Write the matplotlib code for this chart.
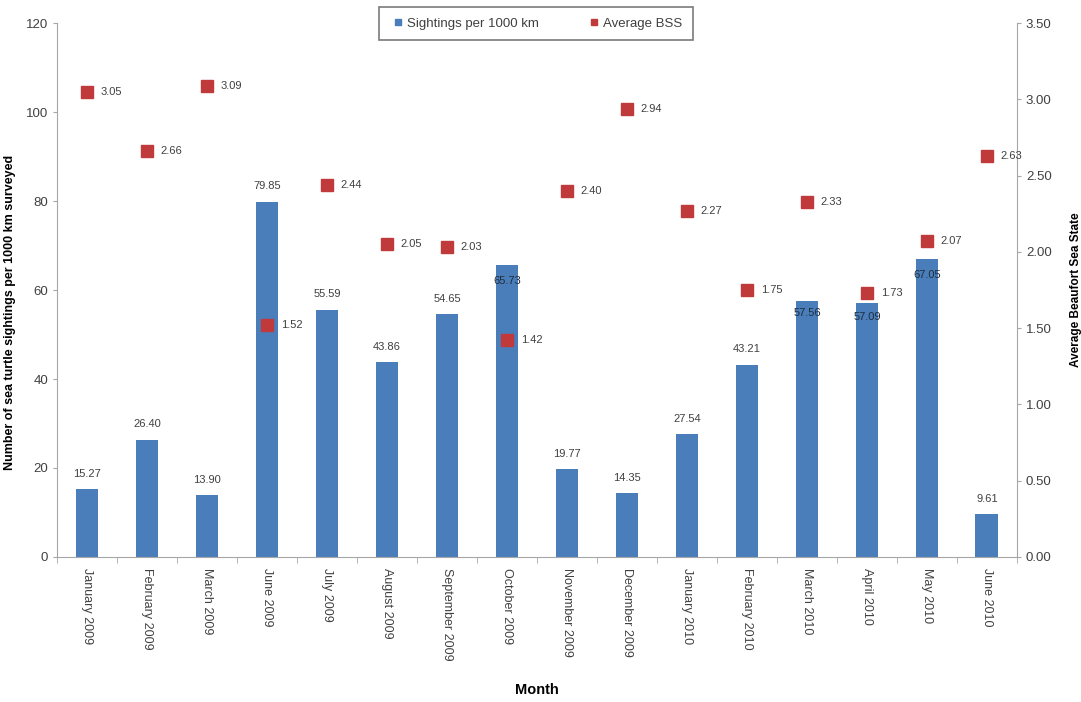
import numpy as np
import matplotlib
matplotlib.use('Agg')
import matplotlib.pyplot as plt
from matplotlib.lines import Line2D

plt.rcParams['font.family'] = ['Liberation Sans', 'DejaVu Sans']

months = ['January 2009', 'February 2009', 'March 2009', 'June 2009', 'July 2009',
          'August 2009', 'September 2009', 'October 2009', 'November 2009',
          'December 2009', 'January 2010', 'February 2010', 'March 2010',
          'April 2010', 'May 2010', 'June 2010']
sightings = [15.27, 26.40, 13.90, 79.85, 55.59, 43.86, 54.65, 65.73, 19.77,
             14.35, 27.54, 43.21, 57.56, 57.09, 67.05, 9.61]
bss = [3.05, 2.66, 3.09, 1.52, 2.44, 2.05, 2.03, 1.42, 2.40, 2.94, 2.27,
       1.75, 2.33, 1.73, 2.07, 2.63]

# vertical nudge of bar labels (points), excel moved a few of them into the bar
bar_label_dy = [11] * len(months)
bar_label_dy[7] = -12
bar_label_dy[12] = -9
bar_label_dy[13] = -10
bar_label_dy[14] = -12

blue = '#4A7EBB'
red = '#C0393B'
grey = '#A6A6A6'

fig = plt.figure(figsize=(10.81, 7.02), dpi=100)
ax = fig.add_axes([0.0527, 0.2066, 0.888, 0.7604])
ax2 = ax.twinx()

x = np.arange(len(months))
ax.bar(x, sightings, width=0.38, color=blue, zorder=2)
ax.set_xlim(-0.5, len(months) - 0.5)
ax.set_ylim(0, 120)
ax.set_yticks(np.arange(0, 121, 20))

for i, v in enumerate(sightings):
    inside = bar_label_dy[i] < 0
    ax.annotate('%.2f' % v, (x[i], v), xytext=(0, bar_label_dy[i]),
                textcoords='offset points', ha='center', va='center',
                fontsize=8, color='#1F2D3D' if inside else '#404040', zorder=5)

ax2.plot(x, bss, linestyle='none', marker='s', markersize=8.5, color=red,
         markeredgecolor=red, zorder=4)
ax2.set_ylim(0, 3.5)
ax2.set_yticks(np.arange(0, 3.51, 0.5))
ax2.set_yticklabels(['%.2f' % t for t in np.arange(0, 3.51, 0.5)])
for i, v in enumerate(bss):
    ax2.annotate('%.2f' % v, (x[i], v), xytext=(10, 0), textcoords='offset points',
                 ha='left', va='center', fontsize=8, color='#404040')

# category ticks sit between the bars like excel
ax.set_xticks(x)
ax.set_xticklabels(months, rotation=270, fontsize=9, color='#404040')
ax.tick_params(axis='x', length=0, pad=8)
ax.set_xticks(np.arange(-0.5, len(months), 1), minor=True)
ax.tick_params(axis='x', which='minor', length=4, color=grey, direction='out')

ax.tick_params(axis='y', labelsize=9.5, colors='#404040', length=3, color=grey)
ax2.tick_params(axis='y', labelsize=9.5, colors='#404040', length=3, color=grey)

for a in (ax, ax2):
    a.spines['top'].set_visible(False)
    for s in ('left', 'right', 'bottom'):
        a.spines[s].set_color(grey)
ax.spines['right'].set_visible(False)
ax2.spines['left'].set_visible(False)
ax2.spines['bottom'].set_visible(False)

ax.set_xlabel('Month', fontsize=10.5, fontweight='bold', labelpad=16)
ax.set_ylabel('Number of sea turtle sightings per 1000 km surveyed', fontsize=9,
              fontweight='bold')
ax.yaxis.set_label_coords(-0.043, 0.459)
ax2.set_ylabel('Average Beaufort Sea State', fontsize=8.5, fontweight='bold', labelpad=13)

handles = [Line2D([], [], linestyle='none', marker='s', markersize=5, color=blue),
           Line2D([], [], linestyle='none', marker='s', markersize=5, color=red)]
leg = fig.legend(handles, ['Sightings per 1000 km', 'Average BSS'], loc='upper center',
                 bbox_to_anchor=(0.496, 0.99), ncol=2, fontsize=9.5, frameon=True,
                 fancybox=False, edgecolor='#595959', handletextpad=0.1,
                 columnspacing=3.6, borderpad=0.8, handlelength=1.2, borderaxespad=0)
for t in leg.get_texts():
    t.set_color('#404040')
leg.get_frame().set_linewidth(1.2)

fig.savefig('out.png', dpi=100)
